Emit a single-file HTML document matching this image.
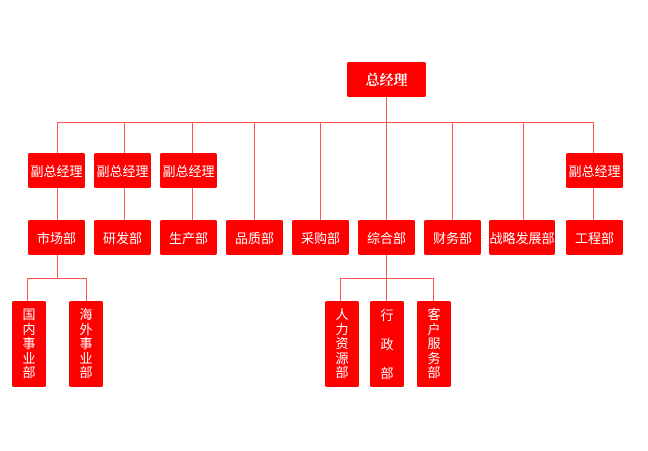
<!DOCTYPE html>
<html><head><meta charset="utf-8"><style>
body{margin:0;width:648px;height:451px;background:#fff;position:relative;overflow:hidden;font-family:"Liberation Sans","Noto Sans CJK SC",sans-serif}
.b{position:absolute;background:#f00;color:#fff;font-size:13px;display:flex;align-items:center;justify-content:center;border-radius:2px;white-space:nowrap}
.v{position:absolute;background:#f00;color:#fff;font-size:13px;text-align:center;border-radius:2px;line-height:14.5px;padding-top:7px;box-sizing:border-box}
.l{position:absolute;background:#f55}
</style></head><body>
<div class="b" style="left:347px;top:62px;width:79px;height:35px;font-family:'Noto Serif CJK SC',serif;font-weight:bold;font-size:14px">总经理</div>
<div class="l" style="left:386px;top:97px;width:1px;height:123px"></div>
<div class="l" style="left:57px;top:122px;width:536px;height:1px"></div>
<div class="l" style="left:57px;top:122px;width:1px;height:133px"></div>
<div class="l" style="left:124px;top:122px;width:1px;height:98px"></div>
<div class="l" style="left:192px;top:122px;width:1px;height:98px"></div>
<div class="l" style="left:254px;top:122px;width:1px;height:98px"></div>
<div class="l" style="left:320px;top:122px;width:1px;height:98px"></div>
<div class="l" style="left:452px;top:122px;width:1px;height:98px"></div>
<div class="l" style="left:523px;top:122px;width:1px;height:98px"></div>
<div class="l" style="left:593px;top:122px;width:1px;height:98px"></div>
<div class="l" style="left:57px;top:255px;width:1px;height:23px"></div>
<div class="l" style="left:27px;top:278px;width:60px;height:1px"></div>
<div class="l" style="left:27px;top:278px;width:1px;height:23px"></div>
<div class="l" style="left:86px;top:278px;width:1px;height:23px"></div>
<div class="l" style="left:386px;top:255px;width:1px;height:46px"></div>
<div class="l" style="left:340px;top:278px;width:94px;height:1px"></div>
<div class="l" style="left:340px;top:278px;width:1px;height:23px"></div>
<div class="l" style="left:433px;top:278px;width:1px;height:23px"></div>

<div class="b" style="left:28px;top:153px;width:57px;height:35px">副总经理</div>
<div class="b" style="left:94px;top:153px;width:57px;height:35px">副总经理</div>
<div class="b" style="left:160px;top:153px;width:57px;height:35px">副总经理</div>
<div class="b" style="left:566px;top:153px;width:57px;height:35px">副总经理</div>

<div class="b" style="left:28px;top:220px;width:57px;height:35px">市场部</div>
<div class="b" style="left:94px;top:220px;width:57px;height:35px">研发部</div>
<div class="b" style="left:160px;top:220px;width:57px;height:35px">生产部</div>
<div class="b" style="left:226px;top:220px;width:57px;height:35px">品质部</div>
<div class="b" style="left:292px;top:220px;width:57px;height:35px">采购部</div>
<div class="b" style="left:358px;top:220px;width:57px;height:35px">综合部</div>
<div class="b" style="left:424px;top:220px;width:57px;height:35px">财务部</div>
<div class="b" style="left:489px;top:220px;width:66px;height:35px">战略发展部</div>
<div class="b" style="left:566px;top:220px;width:57px;height:35px">工程部</div>

<div class="v" style="left:12px;top:301px;width:34px;height:86px">国<br>内<br>事<br>业<br>部</div>
<div class="v" style="left:69px;top:301px;width:34px;height:86px">海<br>外<br>事<br>业<br>部</div>
<div class="v" style="left:325px;top:301px;width:34px;height:86px">人<br>力<br>资<br>源<br>部</div>
<div class="v" style="left:370px;top:301px;width:34px;height:86px;line-height:29px;padding-top:0">行<br>政<br>部</div>
<div class="v" style="left:417px;top:301px;width:34px;height:86px">客<br>户<br>服<br>务<br>部</div>
</body></html>
